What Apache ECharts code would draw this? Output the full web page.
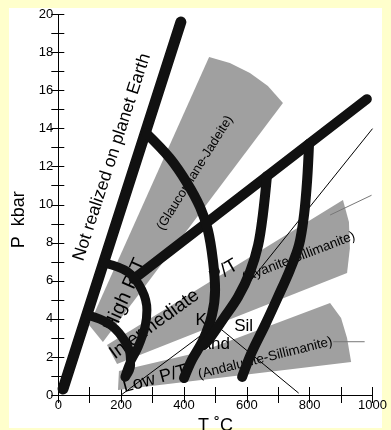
<!DOCTYPE html>
<html>
<head>
<meta charset="utf-8">
<script src="https://cdn.jsdelivr.net/npm/echarts@6/dist/echarts.min.js"></script>
<style>
html, body { margin: 0; padding: 0; background: #ffffcc; }
#chart { width: 391px; height: 430px; }
</style>
</head>
<body>
<div id="chart"></div>
<script>
// ----- data (T in °C, P in kbar) -----
var tempTicks = [0, 200, 400, 600, 800, 1000];
var presTicks = [0, 2, 4, 6, 8, 10, 12, 14, 16, 18, 20];

// heavy lines
var limitLine = [[15, 0.32], [390, 19.6]];
var highPLine = [[240, 6.1], [982, 15.55]];
var arcInner = [[95, 4.2], [158, 3.78], [203, 3.05], [228, 2.2], [230, 1.55], [214, 0.95]];
var arcOuter = [[145, 6.94], [222, 6.46], [266, 5.52], [282, 4.47], [276, 3.57], [254, 2.52], [228, 1.68], [212, 0.95]];
var curveA = [[279, 13.77], [355, 12.45], [410, 11.14], [451, 9.88], [476, 8.67], [492, 7.09], [499, 5.52], [489, 4.2], [461, 2.89], [425, 1.84], [400, 0.89]];
var curveB = [[664, 11.5], [651, 9.46], [636, 7.88], [610, 6.46], [572, 5.15], [527, 4.05], [483, 3.0], [461, 2.6]];
var curveC = [[798, 13.2], [792, 11.3], [782, 9.46], [766, 7.88], [737, 6.57], [699, 5.15], [658, 3.68], [616, 2.26], [585, 0.95]];

// Al2SiO5 lines and leaders
var andKy = [[200, 0], [500, 3.7]];
var kySil = [[500, 3.7], [1000, 14.0]];
var andSil = [[500, 3.7], [765, 0.1]];
var leaderKy = [[865, 9.46], [997, 10.5]];
var leaderAnd = [[875, 2.8], [975, 2.8]];

// shaded facies series
var bandHigh = [[98, 3.68], [480, 17.76], [546, 17.45], [610, 16.92], [667, 16.24], [715, 15.35], [142, 2.79]];
var bandMid = [[155, 2.63], [906, 10.25], [925, 9.09], [928, 7.72], [919, 6.41], [187, 1.63]];
var bandLow = [[193, 1.26], [451, 2.26], [865, 4.83], [900, 4.05], [919, 3.0], [932, 1.73], [190, 0.26]];

// ----- chart -----
var bands = [bandHigh, bandMid, bandLow];
var FONT = '"Liberation Sans", Arial, Helvetica, sans-serif';

// labels: [T, P, text, rotation deg, font size]
var notes = [
  [171, 12.5, 'Not realized on planet Earth', 72, 17.5],
  [213, 5.25, 'High P/T', 66, 20],
  [435, 11.67, '(Glaucophane-Jadeite)', 58, 13],
  [306, 3.72, 'Intermediate', 36, 19],
  [527, 6.5, 'P/T', 30, 19],
  [765, 7.25, '(Kyanite-Sillimanite)', 21, 13.5],
  [308, 0.84, 'Low P/T', 15, 18],
  [659, 1.94, '(Andalusite-Sillimanite)', 14, 13.5],
  [468, 3.9, 'Ky', 0, 17],
  [590, 3.63, 'Sil', 0, 17],
  [498, 2.68, 'And', 0, 17]
];

function heavy(pts, w) {
  return {
    type: 'line', data: pts, smooth: 0.35, symbol: 'none', silent: true, z: 6,
    lineStyle: { width: w, color: '#111', cap: 'round', join: 'round' }
  };
}
function thin(pts, col) {
  return {
    type: 'line', data: pts, symbol: 'none', silent: true, z: 3,
    lineStyle: { width: 1, color: col }
  };
}

var chart = echarts.init(document.getElementById('chart'));
var axisCommon = {
  axisLine: { lineStyle: { color: '#000', width: 1 } },
  splitLine: { show: false }
};
chart.setOption({
  animation: false,
  backgroundColor: '#ffffcc',
  graphic: [{
    type: 'rect', z: -10,
    shape: { x: 9, y: 8, width: 373, height: 420 },
    style: { fill: '#ffffff' }
  }],
  grid: { left: 58.3, right: 18.5, top: 14.5, bottom: 35, outerBoundsMode: 'none', containLabel: false },
  xAxis: [
    Object.assign({
      type: 'value', min: 0, max: 1000, interval: 100, position: 'bottom',
      axisTick: { inside: true, length: 8, lineStyle: { color: '#000' } },
      axisLabel: {
        color: '#000', fontSize: 13, fontFamily: FONT, margin: 4,
        formatter: function (v) { return tempTicks.indexOf(v) >= 0 ? String(v) : ''; }
      },
      name: 'T \u02DAC', nameLocation: 'middle', nameGap: 7,
      nameTextStyle: { color: '#000', fontSize: 18, fontFamily: FONT, verticalAlign: 'top' }
    }, axisCommon),
    Object.assign({
      type: 'value', min: 0, max: 1000, interval: 100, position: 'top',
      axisTick: { inside: true, length: 8, lineStyle: { color: '#000' } },
      axisLabel: { show: false }
    }, axisCommon)
  ],
  yAxis: [
    Object.assign({
      type: 'value', min: 0, max: 20, interval: 1, position: 'left',
      axisTick: { inside: true, length: 6, lineStyle: { color: '#000' } },
      axisLabel: {
        color: '#000', fontSize: 13, fontFamily: FONT, margin: 5,
        formatter: function (v) { return presTicks.indexOf(v) >= 0 ? String(v) : ''; }
      },
      name: 'P  kbar', nameLocation: 'middle', nameGap: 22,
      nameTextStyle: { color: '#000', fontSize: 18, fontFamily: FONT, padding: [0, 30, 0, 0] }
    }, axisCommon),
    Object.assign({
      type: 'value', min: 0, max: 20, interval: 1, position: 'right',
      axisTick: { inside: true, length: 7, lineStyle: { color: '#000' } },
      axisLabel: { show: false }
    }, axisCommon)
  ],
  series: [
    {
      type: 'custom', silent: true, z: 1,
      data: bands.map(function (b, i) { return [b[0][0], b[0][1], i]; }),
      renderItem: function (params, api) {
        var pts = bands[api.value(2)].map(function (p) { return api.coord(p); });
        return { type: 'polygon', shape: { points: pts }, style: { fill: '#a0a0a0' } };
      }
    },
    thin(andKy, '#000'),
    thin(kySil, '#000'),
    thin(andSil, '#000'),
    thin(leaderKy, '#777'),
    thin(leaderAnd, '#777'),
    {
      type: 'custom', silent: true, z: 4,
      data: notes.map(function (n, i) { return [n[0], n[1], i]; }),
      renderItem: function (params, api) {
        var n = notes[api.value(2)];
        var p = api.coord([n[0], n[1]]);
        return {
          type: 'text', x: p[0], y: p[1], rotation: n[3] * Math.PI / 180,
          style: {
            text: n[2], x: 0, y: 0, align: 'center', verticalAlign: 'middle',
            fill: '#000', fontSize: n[4], fontFamily: FONT
          }
        };
      }
    },
    heavy(limitLine, 11),
    heavy(highPLine, 10),
    heavy(arcInner, 9),
    heavy(arcOuter, 9),
    heavy(curveA, 10),
    heavy(curveB, 10),
    heavy(curveC, 10)
  ]
});
</script>
</body>
</html>
